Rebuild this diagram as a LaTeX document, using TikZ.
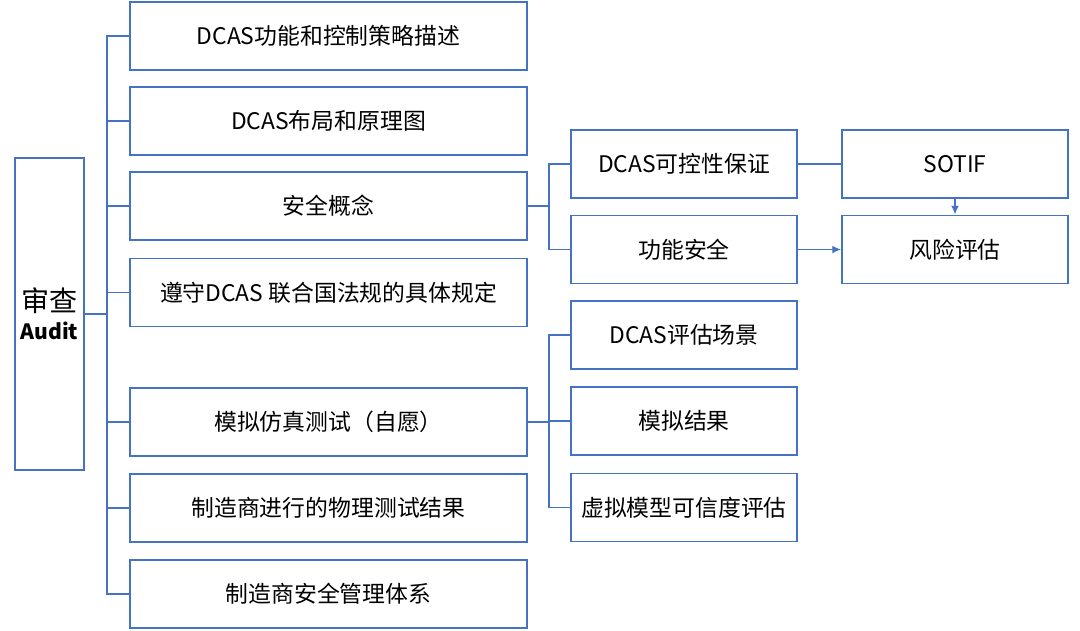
\documentclass[tikz,border=0pt]{standalone}
\usepackage{fontspec}
\setmainfont{Noto Sans CJK SC}
\usetikzlibrary{arrows.meta}
\definecolor{boxblue}{HTML}{4472C4}
\begin{document}
\begin{tikzpicture}[x=0.02cm,y=-0.02cm,
  box/.style={draw=boxblue,line width=1.1pt,minimum height=1.36cm,inner sep=0pt,font=\fontsize{13pt}{15pt}\selectfont},
  wide/.style={box,minimum width=7.94cm},
  mid/.style={box,minimum width=4.52cm},
  link/.style={draw=boxblue,line width=0.8pt},
  tip/.style={link,-{Latex[length=5pt,width=4.5pt]}}]
\useasboundingbox (0,0) rectangle (1080,630);

\node[draw=boxblue,line width=1.1pt,minimum width=1.38cm,minimum height=6.24cm,inner sep=0pt,align=center,
  font=\fontsize{16pt}{16pt}\selectfont] (audit) at (49.5,314)
  {审查\\{\fontsize{12pt}{14pt}\selectfont\bfseries Audit}};

\node[wide] (b1) at (328.5,36) {DCAS功能和控制策略描述};
\node[wide] (b2) at (328.5,121) {DCAS布局和原理图};
\node[wide] (b3) at (328.5,206) {安全概念};
\node[wide] (b4) at (328.5,292.5) {遵守DCAS 联合国法规的具体规定};
\node[wide] (b5) at (328.5,422) {模拟仿真测试（自愿）};
\node[wide] (b6) at (328.5,508) {制造商进行的物理测试结果};
\node[wide] (b7) at (328.5,594) {制造商安全管理体系};

\node[mid] (c1) at (684,164) {DCAS可控性保证};
\node[mid] (c2) at (684,249.5) {功能安全};
\node[mid] (c3) at (684,335) {DCAS评估场景};
\node[mid] (c4) at (684,421) {模拟结果};
\node[mid] (c5) at (684,507.5) {虚拟模型可信度评估};

\node[mid] (r1) at (955,164) {SOTIF};
\node[mid] (r2) at (955,249.5) {风险评估};

\coordinate (trunk) at (107,314);
\coordinate (fork1) at (549,206);
\coordinate (fork2) at (549,422);

\draw[link] (audit.east) -- (trunk);
\foreach \n in {b1,b2,b3,b4,b5,b6,b7}
  \draw[link] (\n.west) -| (trunk);

\draw[link] (b3.east) -- (fork1);
\foreach \n in {c1,c2}
  \draw[link] (\n.west) -| (fork1);

\draw[link] (b5.east) -- (fork2);
\foreach \n in {c3,c4,c5}
  \draw[link] (\n.west) -| (fork2);

\draw[link] (c1) -- (r1);
\draw[tip] (c2) -- (r2);
\draw[tip] (r1) -- (r2);
\end{tikzpicture}
\end{document}
